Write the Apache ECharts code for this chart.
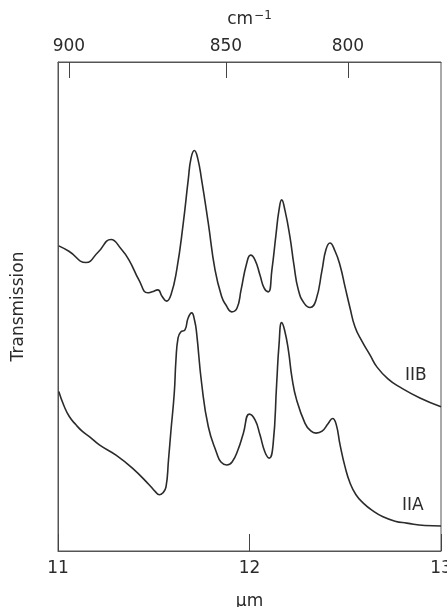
<!DOCTYPE html>
<html>
<head>
<meta charset="utf-8">
<script src="https://cdn.jsdelivr.net/npm/echarts@6/dist/echarts.min.js"></script>
<style>
  html, body { margin: 0; padding: 0; background: #ffffff; }
  #chart { width: 447px; height: 607px; }
</style>
</head>
<body>
<div id="chart"></div>
<script>
// IR transmission spectra of IIA and IIB, wavelength in µm
const wavelengthB = [11.004, 11.057, 11.146, 11.209, 11.277, 11.329, 11.371, 11.423, 11.468, 11.491,
  11.521, 11.543, 11.567, 11.590, 11.620, 11.654, 11.680, 11.695, 11.712, 11.729,
  11.750, 11.785, 11.820, 11.855, 11.877, 11.907, 11.935, 11.956, 11.985, 12.006,
  12.029, 12.055, 12.076, 12.098, 12.117, 12.138, 12.154, 12.168, 12.185, 12.211,
  12.232, 12.255, 12.285, 12.316, 12.347, 12.379, 12.399, 12.420, 12.446, 12.473,
  12.499, 12.525, 12.551, 12.587, 12.629, 12.666, 12.723, 12.786, 12.890, 13.0];
const transmissionB = [62.4, 61.3, 59.0, 61.1, 63.7, 61.8, 59.5, 55.4, 52.8, 53.0,
  53.4, 52.1, 51.1, 52.4, 57.5, 67.0, 75.9, 80.4, 81.9, 80.4,
  75.9, 67.0, 57.5, 52.0, 50.3, 48.9, 49.7, 53.4, 58.8, 60.5,
  59.5, 56.4, 53.8, 53.0, 57.5, 64.6, 69.7, 71.8, 69.7, 64.3,
  58.5, 53.4, 50.7, 49.8, 51.3, 57.5, 61.6, 63.0, 61.4, 58.4,
  54.0, 49.7, 45.8, 42.9, 40.1, 37.6, 35.2, 33.5, 31.3, 29.5];

const wavelengthA = [11.004, 11.031, 11.059, 11.094, 11.129, 11.167, 11.216, 11.303, 11.390, 11.477,
  11.507, 11.529, 11.548, 11.564, 11.577, 11.590, 11.607, 11.616, 11.627, 11.641,
  11.663, 11.679, 11.698, 11.713, 11.724, 11.750, 11.785, 11.829, 11.851, 11.881,
  11.909, 11.940, 11.968, 11.999, 12.029, 12.055, 12.081, 12.103, 12.123, 12.142,
  12.154, 12.168, 12.183, 12.203, 12.222, 12.246, 12.290, 12.316, 12.347, 12.379,
  12.410, 12.434, 12.452, 12.473, 12.499, 12.525, 12.556, 12.594, 12.645, 12.697,
  12.760, 12.821, 12.916, 13.0];
const transmissionA = [32.6, 29.7, 27.5, 25.8, 24.4, 23.3, 21.7, 19.6, 16.9, 13.5,
  12.2, 11.5, 11.9, 13.1, 18.6, 24.7, 32.2, 39.1, 43.6, 44.8,
  45.2, 47.6, 48.7, 47.2, 44.5, 34.3, 25.4, 20.0, 18.2, 17.6,
  18.2, 20.7, 24.1, 28.0, 26.8, 23.7, 20.2, 19.0, 21.7, 34.3,
  42.1, 46.7, 45.2, 41.1, 35.4, 30.9, 26.1, 24.7, 24.1, 24.5,
  26.0, 27.1, 26.0, 21.7, 17.2, 13.9, 11.5, 9.8, 8.2, 7.0,
  6.1, 5.7, 5.2, 5.1];

// bottom axis ticks (µm)
const micronTicks = [11, 12, 13];
// top axis: wavenumber labels and where they sit on the µm scale
const wavenumberLabels = ['900', '850', '800'];
const wavenumberPos = [11.057, 11.877, 12.514];

// curve names and the wavelength their labels sit over
const seriesNames = ['IIB', 'IIA'];
const labelAt = [12.890, 12.916];

const FONT = 'DejaVu Sans';
const INK = '#2b2b2b';

function pairs(xs, ys) {
  return xs.map((x, i) => [x, ys[i]]);
}

// curve name placed just above the curve at the given wavelength
function nameMark(xs, ys, name, lx, dx, gap) {
  const i = xs.indexOf(lx);
  return {
    symbol: 'circle', symbolSize: 0, silent: true,
    label: { show: true, position: 'top', distance: gap, offset: [dx, 0], fontFamily: FONT, fontSize: 17, color: INK },
    data: [{ coord: [xs[i], ys[i]], value: name, label: { formatter: name } }]
  };
}

const chart = echarts.init(document.getElementById('chart'), null, { renderer: 'canvas' });

chart.setOption({
  animation: false,
  backgroundColor: '#ffffff',
  grid: {
    left: 58, right: 6, top: 62, bottom: 56,
    outerBoundsMode: 'none', containLabel: false,
    show: true, borderColor: '#555', borderWidth: 1, backgroundColor: 'transparent'
  },
  xAxis: [
    {
      type: 'value', position: 'bottom', min: micronTicks[0], max: micronTicks[micronTicks.length - 1], interval: 1,
      name: 'μm', nameLocation: 'middle', nameGap: 42,
      nameTextStyle: { fontFamily: FONT, fontSize: 17, color: INK },
      axisLine: { show: true, lineStyle: { color: '#555', width: 1 } },
      axisTick: { show: true, inside: true, length: 17, lineStyle: { color: '#444' } },
      axisLabel: { show: true, margin: 9, fontFamily: FONT, fontSize: 17, color: INK, showMinLabel: true, showMaxLabel: true },
      splitLine: { show: false }
    },
    {
      type: 'value', position: 'top', min: micronTicks[0], max: micronTicks[micronTicks.length - 1],
      name: 'cm{sup|−1}', nameLocation: 'middle', nameGap: 32,
      nameTextStyle: {
        fontFamily: FONT, fontSize: 17, color: INK,
        rich: { sup: { fontFamily: FONT, fontSize: 12, color: INK, verticalAlign: 'top', padding: [0, 0, 8, 1] } }
      },
      axisLine: { show: true, lineStyle: { color: '#555', width: 1 } },
      axisTick: { show: true, inside: true, length: 16, customValues: wavenumberPos, lineStyle: { color: '#444' } },
      axisLabel: {
        show: true, margin: 7, fontFamily: FONT, fontSize: 17, color: INK,
        customValues: wavenumberPos,
        formatter: v => {
          const i = wavenumberPos.findIndex(p => Math.abs(p - v) < 1e-6);
          return i >= 0 ? wavenumberLabels[i] : '';
        }
      },
      splitLine: { show: false }
    }
  ],
  yAxis: {
    type: 'value', min: 0, max: 100,
    name: 'Transmission', nameLocation: 'middle', nameGap: 31, nameRotate: 90,
    nameTextStyle: { fontFamily: FONT, fontSize: 17, color: INK },
    axisLine: { show: true, lineStyle: { color: '#555' } },
    axisTick: { show: false },
    axisLabel: { show: false },
    splitLine: { show: false }
  },
  series: [
    {
      name: seriesNames[0], type: 'line', xAxisIndex: 0,
      data: pairs(wavelengthB, transmissionB),
      showSymbol: false, symbol: 'none', smooth: 0.5,
      lineStyle: { color: INK, width: 1.6 },
      markPoint: nameMark(wavelengthB, transmissionB, seriesNames[0], labelAt[0], -4, 14)
    },
    {
      name: seriesNames[1], type: 'line', xAxisIndex: 0,
      data: pairs(wavelengthA, transmissionA),
      showSymbol: false, symbol: 'none', smooth: 0.5,
      lineStyle: { color: INK, width: 1.6 },
      markPoint: nameMark(wavelengthA, transmissionA, seriesNames[1], labelAt[1], -12, 11)
    }
  ]
});
</script>
</body>
</html>
